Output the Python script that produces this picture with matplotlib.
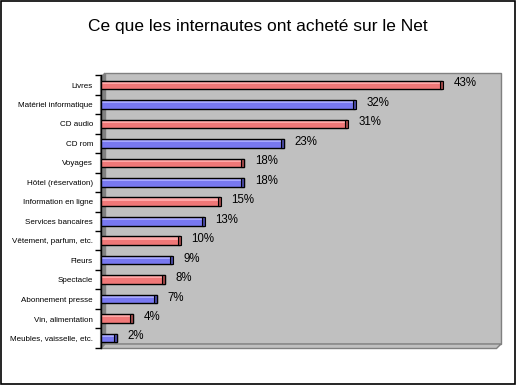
import matplotlib
matplotlib.use("Agg")
import matplotlib.pyplot as plt
from matplotlib.patches import Polygon, Rectangle
from matplotlib.transforms import IdentityTransform

categories = ["Livres", "Matériel informatique", "CD audio", "CD rom", "Voyages",
              "Hôtel (réservation)", "Information en ligne", "Services bancaires",
              "Vêtement, parfum, etc.", "Fleurs", "Spectacle", "Abonnement presse",
              "Vin, alimentation", "Meubles, vaisselle, etc."]
values = [43, 32, 31, 23, 18, 18, 15, 13, 10, 9, 8, 7, 4, 2]
value_labels = ["43%", "32%", "31%", "23%", "18%", "18%", "15%", "13%", "10%",
                "9%", "8%", "7%", "4%", "2%"]
title = "Ce que les internautes ont acheté sur le Net"

W, H = 517, 385
fig = plt.figure(figsize=(W / 100, H / 100), dpi=100)
fig.patch.set_facecolor("white")

def P(x, y):
    return (x, H - y)

x0, x1 = 101, 498
y_top, y_bot = 75.3, 347.7
ax = fig.add_axes([x0 / W, 1 - y_bot / H, (x1 - x0) / W, (y_bot - y_top) / H])
ax.set_xlim(0, 50)
n = len(categories)
ax.set_ylim(n - 0.5, -0.5)
ax.patch.set_visible(False)
for s in ax.spines.values():
    s.set_visible(False)

idt = IdentityTransform()
fig.add_artist(Polygon([P(105, 73), P(501, 73), P(501, 344), P(105, 344)], closed=True,
                       facecolor="#c0c0c0", edgecolor="#808080", lw=1, transform=idt, zorder=0))
fig.add_artist(Polygon([P(100.5, 77), P(105, 73), P(105, 344), P(100.5, 348.5)], closed=True,
                       facecolor="#808080", edgecolor="#808080", lw=0.8, transform=idt, zorder=0))
fig.add_artist(Polygon([P(101, 348.5), P(105, 344), P(501, 344), P(496.5, 348.5)], closed=True,
                       facecolor="#c0c0c0", edgecolor="#808080", lw=1, transform=idt, zorder=0))

ax.set_yticks(range(n))
ax.set_yticklabels(categories, fontsize=5.8, family="Liberation Sans")
ax.tick_params(axis="y", length=0, pad=5.8)
ax.set_xticks([])
ax.set_yticks([i - 0.5 for i in range(n + 1)], minor=True)
ax.tick_params(axis="y", which="minor", length=4, width=1, color="black")
ax.spines["left"].set_visible(True)
ax.spines["left"].set_linewidth(1)

bh = 0.44
px = 50 / (x1 - x0)
for i, (v, lab) in enumerate(zip(values, value_labels)):
    red = (i % 2 == 0)
    main = "#f07878" if red else "#7878f0"
    light = "#ffa8a8" if red else "#a8a8ff"
    dark = "#a04848" if red else "#4848a0"
    ax.barh(i, v, height=bh, color=main, edgecolor="none", zorder=3)
    ax.barh(i - bh * 0.28, v, height=bh * 0.3, color=light, edgecolor="none", zorder=3)
    ax.barh(i, v, height=bh, color="none", edgecolor="black", lw=1, zorder=4)
    ax.add_patch(Rectangle((v - 2.5 * px, i - bh / 2), 3 * px, bh, facecolor=dark,
                           edgecolor="black", lw=0.8, zorder=5))
    ax.text(v + 11 * px, i - 0.08, lab, fontsize=8.3, family="Liberation Sans",
            va="center", ha="left", zorder=6)

fig.text(258 / W, 1 - 27 / H, title, fontsize=12.5, family="Liberation Sans",
         ha="center", va="center")

fig.add_artist(Rectangle((0.5, 1.5), 514, 383, facecolor="none", edgecolor="black",
                         lw=1.2, transform=idt, zorder=10))

fig.savefig("out.png", dpi=100)
